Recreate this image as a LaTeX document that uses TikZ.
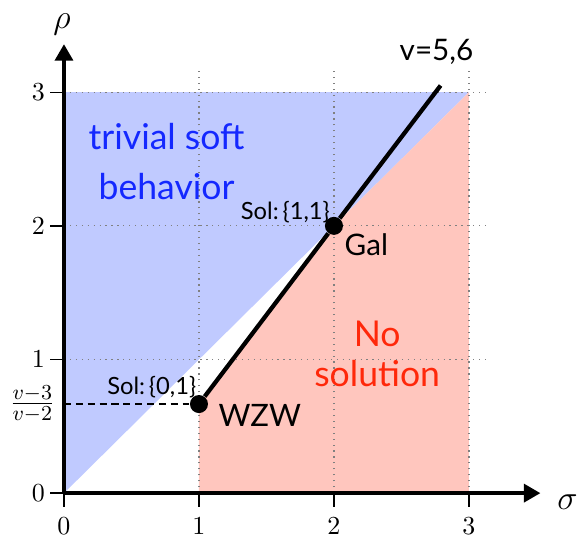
\documentclass[tikz,border=0pt]{standalone}
\usepackage{fontspec}
\setmainfont{Lato}
\usepackage{amsmath}
\usetikzlibrary{arrows.meta}
\definecolor{softblue}{RGB}{192,202,255}
\definecolor{softred}{RGB}{255,198,190}
\definecolor{txtblue}{RGB}{20,40,255}
\definecolor{txtred}{RGB}{255,40,10}

\begin{document}
\begin{tikzpicture}[
  x=2cm, y=1.98cm,
  axis/.style={line width=1.7pt, -{Triangle[length=7pt, width=7.5pt]}},
  gridline/.style={gray, dotted, line width=0.5pt},
  tickmark/.style={line width=0.6pt},
  ticklbl/.style={font=\fontsize{11}{13}\selectfont},
  branch/.style={line width=1.8pt, black},
  point/.style={circle, fill=black, inner sep=0pt, minimum size=7.6pt},
  region/.style={font=\fontsize{15}{18}\selectfont, align=center},
  sol/.style={font=\fontsize{10}{12}\selectfont},
  tag/.style={font=\fontsize{13}{15}\selectfont}
]
  \useasboundingbox (-0.474,-0.33) rectangle (3.83,3.69);
  % regions
  \fill[softblue] (0,0) -- (3,3) -- (0,3) -- cycle;
  \fill[softred] (1,0) -- (3,0) -- (3,3) -- (2,2) -- (1,2/3) -- cycle;
  % grid
  \foreach \k in {1,2,3} {
    \draw[gridline] (\k,0) -- (\k,3.17);
    \draw[gridline] (0,\k) -- (3.15,\k);
  }
  % ticks
  \foreach \k in {0,...,3} {
    \draw[tickmark] (\k,0) -- (\k,-0.1);
    \draw[tickmark] (0,\k) -- (-0.1,\k);
    \node[ticklbl] (xl\k) at (\k,-0.245) {$\k$};
    \node[ticklbl] (yl\k) at (-0.19,\k) {$\k$};
  }
  \node[ticklbl, font=\fontsize{12.5}{14}\selectfont] (frac) at (-0.235,2/3) {$\frac{v-3}{v-2}$};
  % axes
  \coordinate (o) at (0,0);
  \coordinate (xend) at (3.53,0);
  \coordinate (yend) at (0,3.36);
  \draw[axis] (o) -- (xend);
  \draw[axis] (o) -- (yend);
  \node[font=\fontsize{15}{17}\selectfont] (sigma) at (3.73,-0.07) {$\sigma$};
  \node[font=\fontsize{15}{17}\selectfont] (rho) at (-0.015,3.51) {$\rho$};
  % solution branch
  \coordinate (fracpt) at (0,2/3);
  \coordinate (vend) at (2.79,3.05);
  \node[point] (wzw) at (1,2/3) {};
  \node[point] (gal) at (2,2) {};
  \draw[densely dashed, line width=0.7pt] (fracpt) -- (wzw);
  \draw[branch] (wzw) -- (gal) -- (vend);
  % labels
  \node[tag] (wzwlbl) at (1.45,0.58) {WZW};
  \node[tag, font=\fontsize{12.5}{14}\selectfont] (gallbl) at (2.24,1.86) {Gal};
  \node[tag, font=\fontsize{12.5}{14}\selectfont] (vlbl) at (2.76,3.30) {v=5,6};
  \node[sol] (sol01) at (0.65,0.79) {Sol:\,\{0,1\}};
  \node[sol] (sol11) at (1.64,2.105) {Sol:\,\{1,1\}};
  \node[region, text=txtblue, font=\fontsize{15}{21}\selectfont] (triv) at (0.76,2.48) {trivial soft\\behavior};
  \node[region, text=txtred, font=\fontsize{15}{17}\selectfont] (nosol) at (2.32,1.04) {No\\solution};
\end{tikzpicture}
\end{document}
